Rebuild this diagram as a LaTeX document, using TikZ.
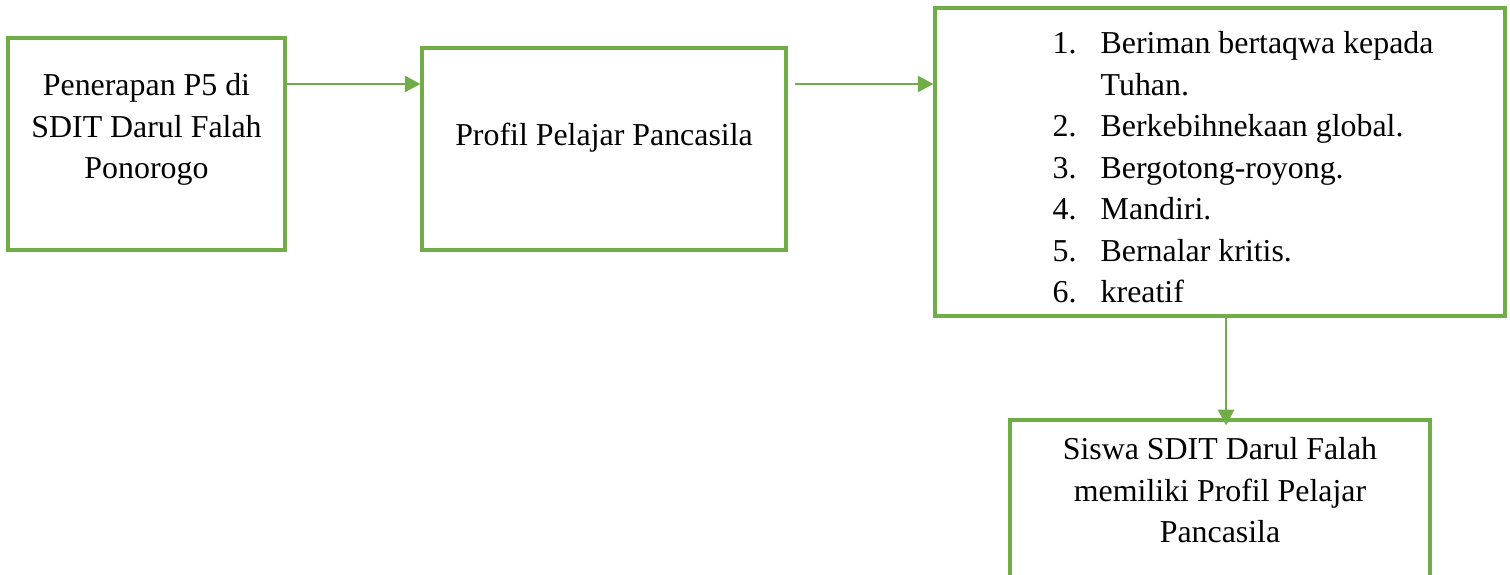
\documentclass[tikz,border=0pt]{standalone}
\usepackage{fontspec}
\setmainfont{Liberation Serif}
\usepackage{tikz}
\usetikzlibrary{arrows.meta,fit}
\definecolor{pgreen}{HTML}{70AD47}

\tikzset{
  box/.style={draw=pgreen, line width=1.1pt, inner sep=0pt},
  link/.style={draw=pgreen, line width=0.7pt, -{Triangle[length=5.4pt,width=5.6pt]}},
  txt/.style={inner sep=0pt, anchor=base, font=\fontsize{11}{14.3}\selectfont}
}

\begin{document}
\begin{tikzpicture}[x=0.345pt,y=-0.345pt]
\clip (0,0) rectangle (1510,575);
% boxes
\node[box, fit={(8,38) (285,250)}] (b1) {};
\node[box, fit={(422,48) (786,250)}] (b2) {};
\node[box, fit={(935,8) (1505,316)}] (b3) {};
\node[box, fit={(1010,420) (1430,640)}] (b4) {};
% texts
\node[txt] (t1) at (146.5,96) {\begin{tabular}[t]{@{}c@{}}
Penerapan P5 di\\
SDIT Darul Falah\\
Ponorogo
\end{tabular}};
\node[txt] (t2) at (604,146) {Profil Pelajar Pancasila};
\node[txt, anchor=base west] (t3) at (1052,54) {\begin{tabular}[t]{@{}p{16.6pt}@{}l@{}}
1. & Beriman bertaqwa kepada\\
   & Tuhan.\\
2. & Berkebihnekaan global.\\
3. & Bergotong-royong.\\
4. & Mandiri.\\
5. & Bernalar kritis.\\
6. & kreatif
\end{tabular}};
\node[txt] (t4) at (1220,460) {\begin{tabular}[t]{@{}c@{}}
Siswa SDIT Darul Falah\\
memiliki Profil Pelajar\\
Pancasila
\end{tabular}};
% arrows
\coordinate (r1) at (0,84);
\coordinate (s2) at (795,84);
\draw[link] (b1.east |- r1) -- (b2.west |- r1);
\draw[link] (s2) -- (b3.west |- s2);
\draw[link, shorten >=-2.4pt] ([xshift=2.1pt]b3.south) -- ([xshift=2.1pt]b4.north);
\end{tikzpicture}
\end{document}
